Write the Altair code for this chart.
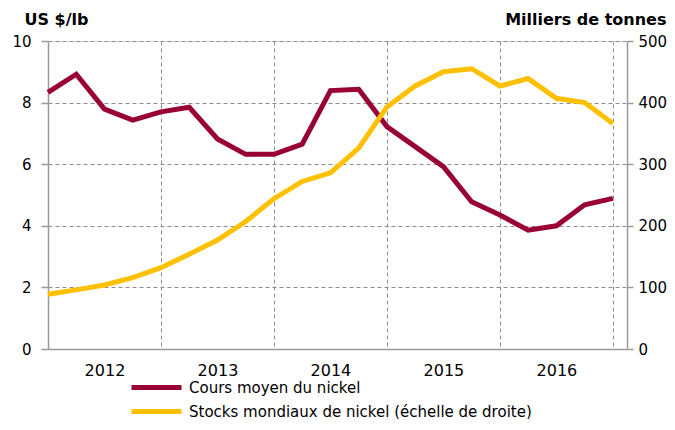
import altair as alt
import pandas as pd

# Quarterly points, Q1 2012 .. Q1 2017 (index 0..20)
quarters = list(range(21))
price = [8.33, 8.92, 7.79, 7.43, 7.70, 7.85, 6.82, 6.32, 6.32, 6.65,
         8.39, 8.43, 7.22, 6.57, 5.92, 4.78, 4.35, 3.86, 4.00, 4.68, 4.89]
stocks = [89, 96, 104, 116, 132, 154, 177, 207, 244, 272,
          286, 326, 393, 427, 450, 455, 427, 439, 407, 400, 366]
year_ticks = [4, 8, 12, 16, 20]
left_ticks = [0, 2, 4, 6, 8, 10]
right_ticks = [0, 100, 200, 300, 400, 500]

s_price = "Cours moyen du nickel"
s_stock = "Stocks mondiaux de nickel (échelle de droite)"

df = pd.DataFrame({"t": quarters, "price": price, "stock": stocks})

FONT = "DejaVu Sans"
color_scale = alt.Scale(domain=[s_price, s_stock], range=["#990033", "#FFC000"])

x_enc = alt.X(
    "t:Q",
    scale=alt.Scale(domain=[0, 20.5], nice=False, zero=False),
    axis=alt.Axis(
        values=year_ticks,
        labelExpr="toString(2011 + datum.value / 4)",
        labelOffset=-56.5,
        ticks=False,
        grid=True,
        gridDash=[4, 3],
        gridColor="#8c8c8c",
        domainColor="#9a9a9a",
        domainWidth=1.5,
        labelFontSize=16,
        labelFont=FONT,
        labelColor="#000000",
        labelPadding=13,
        title=None,
    ),
)

price_line = alt.Chart(df).transform_calculate(serie=f"'{s_price}'").mark_line(
    strokeWidth=5
).encode(
    x=x_enc,
    y=alt.Y(
        "price:Q",
        scale=alt.Scale(domain=[0, 10], nice=False),
        axis=alt.Axis(
            values=left_ticks,
            orient="left",
            grid=True,
            gridDash=[4, 3],
            gridColor="#8c8c8c",
            domainColor="#9a9a9a",
            domainWidth=1.5,
            tickColor="#9a9a9a",
            tickSize=7,
            tickWidth=1.5,
            labelFontSize=15,
            labelFont=FONT,
            labelColor="#000000",
            labelPadding=10,
            title="US $/lb",
            titleAngle=0,
            titleX=-24,
            titleY=-17,
            titleAlign="left",
            titleBaseline="alphabetic",
            titleFont=FONT,
            titleFontSize=16,
            titleFontWeight="bold",
            titleColor="#000000",
        ),
    ),
    color=alt.Color(
        "serie:N",
        scale=color_scale,
        legend=alt.Legend(
            orient="none",
            legendX=96,
            legendY=334,
            direction="vertical",
            title=None,
            symbolType="M-2.5,0H2.5",
            symbolSize=400,
            symbolStrokeWidth=5,
            rowPadding=1,
            padding=0,
            labelFontSize=15,
            labelFont=FONT,
            labelColor="#000000",
            labelOffset=20,
            labelLimit=600,
        ),
    ),
)

stock_line = alt.Chart(df).transform_calculate(serie=f"'{s_stock}'").mark_line(
    strokeWidth=5
).encode(
    x=x_enc,
    y=alt.Y(
        "stock:Q",
        scale=alt.Scale(domain=[0, 500], nice=False),
        axis=alt.Axis(
            values=right_ticks,
            orient="right",
            grid=False,
            domainColor="#9a9a9a",
            domainWidth=1.5,
            tickColor="#9a9a9a",
            tickSize=6,
            tickWidth=1.5,
            labelFontSize=15,
            labelFont=FONT,
            labelColor="#000000",
            labelPadding=5,
            title="Milliers de tonnes",
            titleAngle=0,
            titleX=39,
            titleY=-17,
            titleAlign="right",
            titleBaseline="alphabetic",
            titleFont=FONT,
            titleFontSize=16,
            titleFontWeight="bold",
            titleColor="#000000",
        ),
    ),
    color=alt.Color("serie:N", scale=color_scale),
)

chart = alt.layer(price_line, stock_line).resolve_scale(
    y="independent"
).properties(
    width=579,
    height=308,
    autosize=alt.AutoSizeParams(type="none"),
    padding={"left": 40, "top": 33, "right": 40, "bottom": 70},
).configure_view(stroke=None).configure(background="white")

chart.save("out.html", embed_options={"renderer": "svg", "actions": False})
